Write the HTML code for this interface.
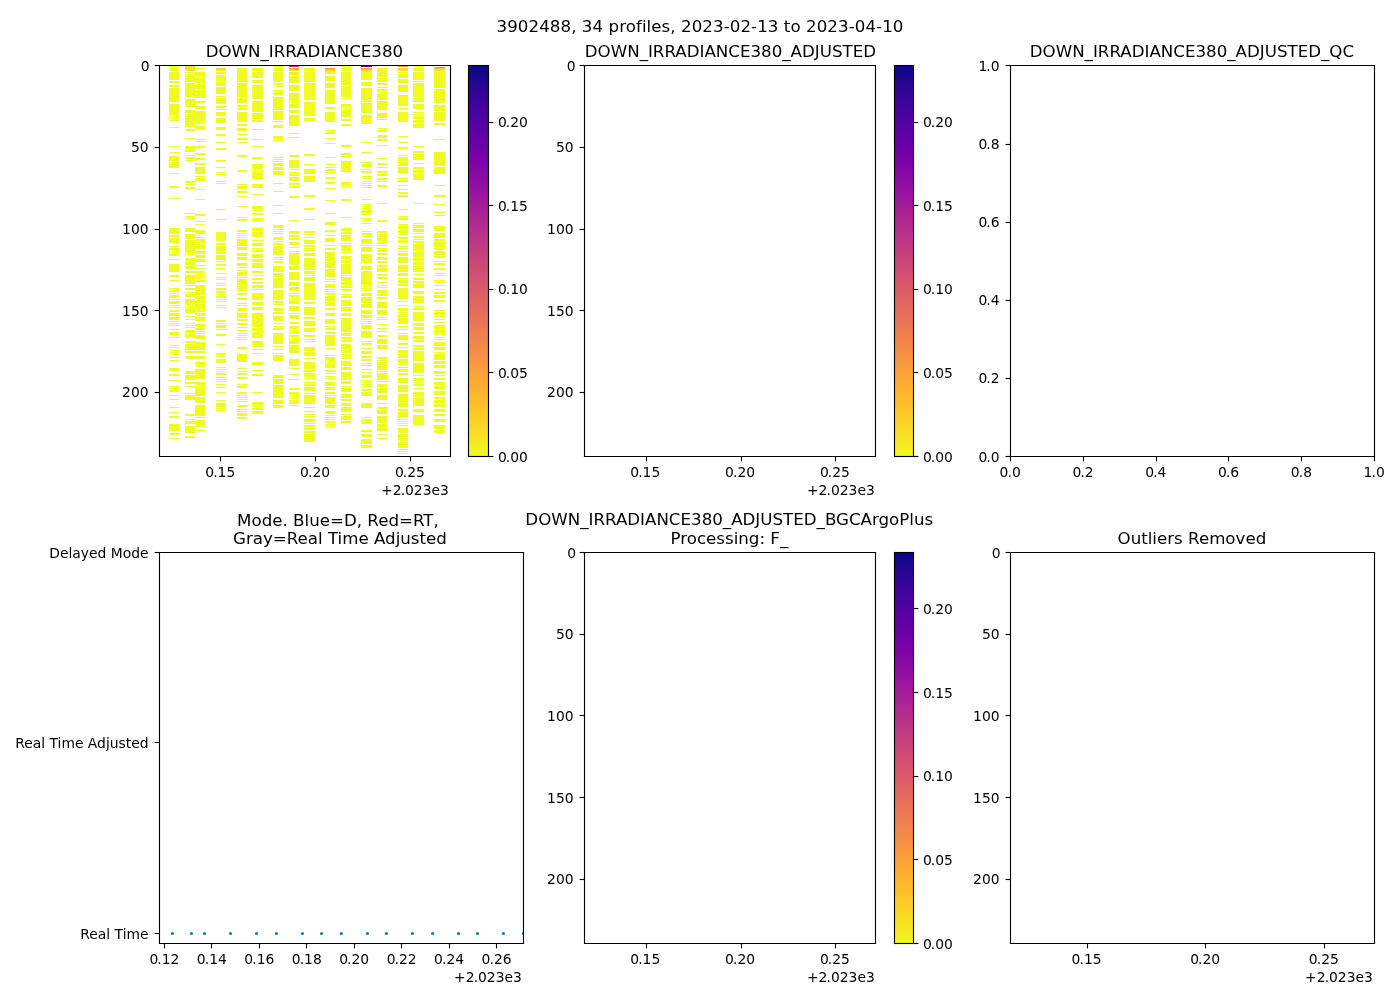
<!DOCTYPE html>
<html><head><meta charset="utf-8"><title>3902488 DOWN_IRRADIANCE380</title>
<style>html,body{margin:0;padding:0;background:#fff;width:1400px;height:1000px;overflow:hidden}svg{display:block;will-change:transform}</style>
</head><body>
<svg width="1400" height="1000" viewBox="0 0 1008 720" version="1.1">
 <defs><linearGradient id="plasma" x1="0" y1="1" x2="0" y2="0"><stop offset="0.0000" stop-color="#f0f921"/><stop offset="0.0625" stop-color="#f9dd25"/><stop offset="0.1250" stop-color="#fdc328"/><stop offset="0.1875" stop-color="#fdab33"/><stop offset="0.2500" stop-color="#f89441"/><stop offset="0.3125" stop-color="#f07f4f"/><stop offset="0.3750" stop-color="#e56b5d"/><stop offset="0.4375" stop-color="#d9586a"/><stop offset="0.5000" stop-color="#cb4679"/><stop offset="0.5625" stop-color="#bb3488"/><stop offset="0.6250" stop-color="#a82296"/><stop offset="0.6875" stop-color="#9410a2"/><stop offset="0.7500" stop-color="#7d03a8"/><stop offset="0.8125" stop-color="#6400a7"/><stop offset="0.8750" stop-color="#4b03a1"/><stop offset="0.9375" stop-color="#2f0596"/><stop offset="1.0000" stop-color="#0d0887"/></linearGradient>
  <style type="text/css">*{stroke-linejoin: round; stroke-linecap: butt}</style>
 </defs>
 <g id="figure_1">
  <g id="patch_1">
   <path d="M 0 720 L 1008 720 L 1008 0 L 0 0 z
" style="fill: #ffffff"/>
  </g>
  <g id="axes_1">
   <g id="patch_2">
    <path d="M 114.84 328.68 L 324.36 328.68 L 324.36 47.16 L 114.84 47.16 z
" style="fill: #ffffff"/>
   </g>
   <g transform="scale(0.72)" shape-rendering="crispEdges"><clipPath id="clipA"><rect x="159.5" y="65.5" width="291" height="391"/></clipPath><g clip-path="url(#clipA)"><path fill="#f0f921" d="M169 66h10v1h-10zM169 68h10v3h-10zM169 72h10v8h-10zM169 81h10v2h-10zM169 85h10v2h-10zM169 88h10v14h-10zM169 104h10v11h-10zM169 116h10v1h-10zM169 118h10v1h-10zM169 120h10v1h-10zM169 127h10v1h-10zM169 146h10v1h-10zM169 152h10v1h-10zM169 156h10v5h-10zM169 162h10v6h-10zM169 173h10v1h-10zM169 186h10v2h-10zM169 198h10v1h-10zM169 228h10v6h-10zM169 235h10v2h-10zM169 238h10v5h-10zM169 246h10v1h-10zM169 248h10v3h-10zM169 252h10v1h-10zM169 254h10v2h-10zM169 259h10v1h-10zM169 264h10v8h-10zM169 275h10v2h-10zM169 280h10v1h-10zM169 288h10v1h-10zM169 290h10v2h-10zM169 293h10v1h-10zM169 295h10v3h-10zM169 299h10v1h-10zM169 301h10v3h-10zM169 305h10v1h-10zM169 307h10v1h-10zM169 310h10v2h-10zM169 313h10v3h-10zM169 317h10v3h-10zM169 321h10v1h-10zM169 323h10v1h-10zM169 325h10v1h-10zM169 329h10v1h-10zM169 332h10v3h-10zM169 337h10v1h-10zM169 345h10v1h-10zM169 347h10v1h-10zM169 350h10v1h-10zM169 352h10v1h-10zM169 354h10v1h-10zM169 357h10v1h-10zM169 360h10v1h-10zM169 368h10v3h-10zM169 374h10v2h-10zM169 380h10v1h-10zM169 386h10v1h-10zM169 388h10v1h-10zM169 390h10v2h-10zM169 395h10v1h-10zM169 399h10v1h-10zM169 407h10v1h-10zM169 412h10v1h-10zM169 416h10v2h-10zM169 424h10v7h-10zM169 433h10v2h-10zM169 438h10v1h-10zM185 72h10v1h-10zM185 74h10v8h-10zM185 83h10v14h-10zM185 99h10v8h-10zM185 110h10v3h-10zM185 114h10v13h-10zM185 129h10v2h-10zM185 138h10v1h-10zM185 146h10v3h-10zM185 150h10v2h-10zM185 155h10v1h-10zM185 157h10v2h-10zM185 160h10v1h-10zM185 181h10v2h-10zM185 184h10v1h-10zM185 187h10v2h-10zM185 213h10v1h-10zM185 216h10v1h-10zM185 218h10v1h-10zM185 228h10v4h-10zM185 234h10v5h-10zM185 240h10v13h-10zM185 254h10v1h-10zM185 258h10v3h-10zM185 262h10v3h-10zM185 266h10v3h-10zM185 271h10v2h-10zM185 275h10v9h-10zM185 285h10v1h-10zM185 288h10v2h-10zM185 292h10v1h-10zM185 294h10v3h-10zM185 299h10v6h-10zM185 306h10v1h-10zM185 308h10v5h-10zM185 316h10v1h-10zM185 319h10v1h-10zM185 323h10v1h-10zM185 325h10v1h-10zM185 327h10v1h-10zM185 330h10v3h-10zM185 334h10v4h-10zM185 341h10v2h-10zM185 344h10v6h-10zM185 351h10v2h-10zM185 356h10v3h-10zM185 371h10v3h-10zM185 375h10v5h-10zM185 382h10v2h-10zM185 386h10v1h-10zM185 393h10v1h-10zM185 395h10v5h-10zM185 414h10v2h-10zM185 419h10v1h-10zM185 421h10v3h-10zM185 426h10v7h-10zM185 436h10v2h-10zM195 68h10v1h-10zM195 72h10v5h-10zM195 78h10v5h-10zM195 84h10v5h-10zM195 90h10v3h-10zM195 94h10v4h-10zM195 101h10v2h-10zM195 106h10v3h-10zM195 111h10v10h-10zM195 122h10v1h-10zM195 126h10v4h-10zM195 139h10v1h-10zM195 141h10v1h-10zM195 146h10v2h-10zM195 153h10v2h-10zM195 158h10v2h-10zM195 163h10v2h-10zM195 167h10v7h-10zM195 176h10v1h-10zM195 178h10v3h-10zM195 189h10v1h-10zM195 199h10v1h-10zM195 214h10v2h-10zM195 221h10v1h-10zM195 224h10v1h-10zM195 230h10v4h-10zM195 237h10v1h-10zM195 239h10v4h-10zM195 244h10v5h-10zM195 251h10v3h-10zM195 255h10v3h-10zM195 259h10v3h-10zM195 265h10v1h-10zM195 268h10v1h-10zM195 271h10v2h-10zM195 274h10v1h-10zM195 276h10v1h-10zM195 278h10v1h-10zM195 280h10v2h-10zM195 285h10v10h-10zM195 296h10v3h-10zM195 300h10v3h-10zM195 304h10v5h-10zM195 310h10v2h-10zM195 313h10v3h-10zM195 317h10v4h-10zM195 324h10v3h-10zM195 328h10v2h-10zM195 331h10v1h-10zM195 333h10v1h-10zM195 335h10v4h-10zM195 342h10v8h-10zM195 351h10v2h-10zM195 356h10v3h-10zM195 362h10v3h-10zM195 366h10v1h-10zM195 369h10v10h-10zM195 382h10v3h-10zM195 386h10v1h-10zM195 388h10v8h-10zM195 397h10v6h-10zM195 405h10v11h-10zM195 417h10v1h-10zM195 420h10v5h-10zM195 426h10v1h-10zM195 430h10v1h-10zM216 72h10v2h-10zM216 75h10v6h-10zM216 82h10v4h-10zM216 87h10v7h-10zM216 96h10v1h-10zM216 98h10v6h-10zM216 106h10v2h-10zM216 109h10v1h-10zM216 112h10v4h-10zM216 118h10v5h-10zM216 127h10v3h-10zM216 134h10v2h-10zM216 142h10v1h-10zM216 148h10v2h-10zM216 160h10v2h-10zM216 167h10v1h-10zM216 172h10v1h-10zM216 174h10v1h-10zM216 181h10v1h-10zM216 183h10v1h-10zM216 209h10v1h-10zM216 219h10v1h-10zM216 232h10v9h-10zM216 243h10v2h-10zM216 246h10v5h-10zM216 252h10v2h-10zM216 255h10v5h-10zM216 261h10v1h-10zM216 264h10v2h-10zM216 268h10v1h-10zM216 273h10v1h-10zM216 277h10v1h-10zM216 279h10v1h-10zM216 283h10v1h-10zM216 285h10v1h-10zM216 288h10v2h-10zM216 291h10v2h-10zM216 294h10v1h-10zM216 296h10v2h-10zM216 299h10v1h-10zM216 301h10v1h-10zM216 305h10v1h-10zM216 307h10v1h-10zM216 320h10v2h-10zM216 323h10v1h-10zM216 325h10v3h-10zM216 329h10v1h-10zM216 334h10v2h-10zM216 344h10v1h-10zM216 353h10v2h-10zM216 356h10v1h-10zM216 359h10v4h-10zM216 367h10v1h-10zM216 369h10v1h-10zM216 371h10v1h-10zM216 373h10v2h-10zM216 377h10v1h-10zM216 379h10v1h-10zM216 381h10v1h-10zM216 384h10v1h-10zM216 387h10v1h-10zM216 392h10v1h-10zM216 400h10v1h-10zM216 403h10v4h-10zM216 408h10v1h-10zM216 410h10v1h-10zM237 68h10v14h-10zM237 83h10v14h-10zM237 98h10v5h-10zM237 105h10v2h-10zM237 108h10v2h-10zM237 112h10v10h-10zM237 124h10v2h-10zM237 128h10v3h-10zM237 134h10v1h-10zM237 138h10v2h-10zM237 142h10v1h-10zM237 155h10v2h-10zM237 170h10v2h-10zM237 184h10v1h-10zM237 186h10v3h-10zM237 191h10v2h-10zM237 196h10v1h-10zM237 206h10v1h-10zM237 217h10v1h-10zM237 219h10v2h-10zM237 230h10v2h-10zM237 233h10v1h-10zM237 235h10v1h-10zM237 237h10v1h-10zM237 239h10v7h-10zM237 247h10v3h-10zM237 253h10v3h-10zM237 257h10v3h-10zM237 263h10v3h-10zM237 267h10v1h-10zM237 270h10v1h-10zM237 272h10v4h-10zM237 277h10v1h-10zM237 279h10v6h-10zM237 286h10v5h-10zM237 293h10v2h-10zM237 298h10v2h-10zM237 303h10v1h-10zM237 305h10v1h-10zM237 308h10v3h-10zM237 313h10v5h-10zM237 319h10v2h-10zM237 323h10v2h-10zM237 327h10v1h-10zM237 330h10v1h-10zM237 333h10v1h-10zM237 335h10v1h-10zM237 337h10v1h-10zM237 339h10v1h-10zM237 347h10v2h-10zM237 354h10v8h-10zM237 368h10v1h-10zM237 371h10v1h-10zM237 373h10v2h-10zM237 377h10v2h-10zM237 384h10v1h-10zM237 386h10v2h-10zM237 392h10v2h-10zM237 395h10v1h-10zM237 397h10v1h-10zM237 399h10v1h-10zM237 401h10v1h-10zM237 405h10v2h-10zM237 409h10v1h-10zM237 411h10v1h-10zM237 413h10v3h-10zM237 417h10v2h-10zM252 68h11v3h-11zM252 72h11v6h-11zM252 80h11v3h-11zM252 85h11v14h-11zM252 101h11v11h-11zM252 113h11v6h-11zM252 120h11v2h-11zM252 129h11v1h-11zM252 139h11v1h-11zM252 146h11v1h-11zM252 157h11v2h-11zM252 164h11v5h-11zM252 170h11v1h-11zM252 172h11v7h-11zM252 184h11v4h-11zM252 194h11v1h-11zM252 206h11v3h-11zM252 210h11v1h-11zM252 213h11v2h-11zM252 218h11v1h-11zM252 220h11v1h-11zM252 228h11v3h-11zM252 232h11v5h-11zM252 240h11v1h-11zM252 243h11v3h-11zM252 248h11v1h-11zM252 250h11v2h-11zM252 254h11v4h-11zM252 259h11v3h-11zM252 263h11v5h-11zM252 271h11v2h-11zM252 275h11v1h-11zM252 278h11v2h-11zM252 282h11v2h-11zM252 285h11v3h-11zM252 289h11v1h-11zM252 293h11v7h-11zM252 302h11v3h-11zM252 307h11v3h-11zM252 313h11v14h-11zM252 328h11v3h-11zM252 332h11v6h-11zM252 341h11v4h-11zM252 346h11v1h-11zM252 349h11v1h-11zM252 353h11v1h-11zM252 362h11v3h-11zM252 370h11v1h-11zM252 374h11v2h-11zM252 392h11v1h-11zM252 402h11v3h-11zM252 406h11v1h-11zM252 408h11v2h-11zM252 411h11v3h-11zM273 66h10v1h-10zM273 68h10v3h-10zM273 72h10v10h-10zM273 83h10v2h-10zM273 86h10v1h-10zM273 90h10v1h-10zM273 92h10v3h-10zM273 97h10v13h-10zM273 111h10v9h-10zM273 121h10v1h-10zM273 125h10v3h-10zM273 136h10v3h-10zM273 140h10v1h-10zM273 157h10v1h-10zM273 159h10v1h-10zM273 161h10v1h-10zM273 163h10v3h-10zM273 167h10v3h-10zM273 171h10v4h-10zM273 183h10v1h-10zM273 191h10v1h-10zM273 205h10v1h-10zM273 213h10v1h-10zM273 225h10v3h-10zM273 229h10v1h-10zM273 231h10v1h-10zM273 233h10v1h-10zM273 237h10v3h-10zM273 241h10v1h-10zM273 243h10v2h-10zM273 246h10v9h-10zM273 257h10v1h-10zM273 259h10v1h-10zM273 261h10v2h-10zM273 266h10v6h-10zM273 273h10v4h-10zM273 278h10v10h-10zM273 290h10v10h-10zM273 301h10v2h-10zM273 304h10v1h-10zM273 308h10v3h-10zM273 312h10v2h-10zM273 316h10v5h-10zM273 323h10v1h-10zM273 326h10v1h-10zM273 328h10v2h-10zM273 333h10v11h-10zM273 346h10v1h-10zM273 349h10v1h-10zM273 353h10v1h-10zM273 355h10v6h-10zM273 375h10v3h-10zM273 379h10v5h-10zM273 385h10v13h-10zM273 400h10v4h-10zM273 405h10v3h-10zM289 76h10v7h-10zM289 85h10v6h-10zM289 93h10v8h-10zM289 102h10v1h-10zM289 104h10v4h-10zM289 110h10v3h-10zM289 115h10v11h-10zM289 133h10v1h-10zM289 137h10v1h-10zM289 155h10v2h-10zM289 160h10v8h-10zM289 169h10v1h-10zM289 172h10v1h-10zM289 174h10v2h-10zM289 177h10v4h-10zM289 183h10v2h-10zM289 186h10v2h-10zM289 196h10v2h-10zM289 220h10v1h-10zM289 231h10v3h-10zM289 235h10v2h-10zM289 238h10v2h-10zM289 242h10v3h-10zM289 247h10v1h-10zM289 251h10v1h-10zM289 253h10v12h-10zM289 266h10v4h-10zM289 272h10v8h-10zM289 282h10v4h-10zM289 287h10v4h-10zM289 293h10v1h-10zM289 295h10v2h-10zM289 298h10v1h-10zM289 300h10v4h-10zM289 306h10v5h-10zM289 313h10v1h-10zM289 315h10v4h-10zM289 322h10v2h-10zM289 326h10v3h-10zM289 330h10v1h-10zM289 332h10v2h-10zM289 335h10v2h-10zM289 338h10v1h-10zM289 340h10v4h-10zM289 345h10v8h-10zM289 359h10v7h-10zM289 368h10v1h-10zM289 374h10v1h-10zM289 379h10v1h-10zM289 388h10v2h-10zM289 392h10v3h-10zM289 396h10v1h-10zM289 398h10v1h-10zM289 400h10v4h-10zM289 405h10v1h-10zM304 68h11v3h-11zM304 72h11v10h-11zM304 83h11v14h-11zM304 98h11v2h-11zM304 102h11v14h-11zM304 118h11v3h-11zM304 154h11v2h-11zM304 164h11v1h-11zM304 169h11v5h-11zM304 176h11v6h-11zM304 195h11v2h-11zM304 208h11v2h-11zM304 219h11v1h-11zM304 231h11v2h-11zM304 234h11v1h-11zM304 237h11v1h-11zM304 240h11v4h-11zM304 245h11v2h-11zM304 248h11v1h-11zM304 250h11v1h-11zM304 253h11v3h-11zM304 258h11v9h-11zM304 268h11v2h-11zM304 271h11v3h-11zM304 275h11v1h-11zM304 277h11v4h-11zM304 283h11v14h-11zM304 298h11v2h-11zM304 302h11v2h-11zM304 307h11v8h-11zM304 317h11v2h-11zM304 321h11v5h-11zM304 328h11v4h-11zM304 335h11v2h-11zM304 339h11v1h-11zM304 341h11v1h-11zM304 347h11v4h-11zM304 352h11v4h-11zM304 358h11v1h-11zM304 362h11v7h-11zM304 370h11v2h-11zM304 373h11v4h-11zM304 378h11v1h-11zM304 382h11v1h-11zM304 384h11v2h-11zM304 387h11v4h-11zM304 393h11v1h-11zM304 395h11v9h-11zM304 407h11v1h-11zM304 411h11v1h-11zM304 414h11v1h-11zM304 416h11v1h-11zM304 419h11v3h-11zM304 423h11v1h-11zM304 425h11v2h-11zM304 428h11v2h-11zM304 431h11v2h-11zM304 434h11v8h-11zM325 72h10v2h-10zM325 76h10v5h-10zM325 83h10v5h-10zM325 90h10v14h-10zM325 107h10v2h-10zM325 112h10v10h-10zM325 130h10v1h-10zM325 132h10v2h-10zM325 138h10v1h-10zM325 143h10v1h-10zM325 157h10v1h-10zM325 164h10v1h-10zM325 167h10v1h-10zM325 169h10v2h-10zM325 172h10v1h-10zM325 177h10v2h-10zM325 182h10v2h-10zM325 188h10v1h-10zM325 200h10v1h-10zM325 213h10v1h-10zM325 222h10v3h-10zM325 230h10v2h-10zM325 235h10v1h-10zM325 238h10v4h-10zM325 245h10v1h-10zM325 248h10v2h-10zM325 252h10v9h-10zM325 262h10v6h-10zM325 269h10v8h-10zM325 279h10v1h-10zM325 281h10v1h-10zM325 284h10v4h-10zM325 289h10v1h-10zM325 291h10v1h-10zM325 293h10v2h-10zM325 296h10v5h-10zM325 302h10v4h-10zM325 308h10v2h-10zM325 313h10v3h-10zM325 319h10v5h-10zM325 326h10v1h-10zM325 328h10v2h-10zM325 332h10v2h-10zM325 335h10v11h-10zM325 348h10v1h-10zM325 355h10v1h-10zM325 357h10v4h-10zM325 362h10v1h-10zM325 364h10v4h-10zM325 370h10v2h-10zM325 373h10v1h-10zM325 376h10v1h-10zM325 378h10v1h-10zM325 382h10v4h-10zM325 387h10v3h-10zM325 392h10v2h-10zM325 395h10v1h-10zM325 397h10v7h-10zM325 405h10v3h-10zM325 411h10v3h-10zM325 415h10v1h-10zM325 417h10v1h-10zM325 419h10v1h-10zM325 421h10v2h-10zM325 424h10v1h-10zM325 426h10v1h-10zM341 66h10v1h-10zM341 68h10v3h-10zM341 72h10v13h-10zM341 86h10v11h-10zM341 98h10v1h-10zM341 104h10v3h-10zM341 108h10v1h-10zM341 110h10v7h-10zM341 119h10v2h-10zM341 124h10v2h-10zM341 145h10v2h-10zM341 153h10v2h-10zM341 156h10v1h-10zM341 161h10v11h-10zM341 182h10v3h-10zM341 186h10v1h-10zM341 199h10v2h-10zM341 217h10v1h-10zM341 228h10v3h-10zM341 232h10v2h-10zM341 235h10v6h-10zM341 243h10v1h-10zM341 245h10v6h-10zM341 252h10v1h-10zM341 256h10v3h-10zM341 260h10v3h-10zM341 264h10v10h-10zM341 275h10v1h-10zM341 277h10v4h-10zM341 282h10v3h-10zM341 286h10v2h-10zM341 289h10v2h-10zM341 294h10v1h-10zM341 296h10v2h-10zM341 300h10v6h-10zM341 307h10v4h-10zM341 313h10v3h-10zM341 318h10v14h-10zM341 333h10v3h-10zM341 337h10v2h-10zM341 340h10v2h-10zM341 344h10v5h-10zM341 350h10v3h-10zM341 354h10v3h-10zM341 358h10v1h-10zM341 361h10v5h-10zM341 367h10v3h-10zM341 372h10v5h-10zM341 378h10v2h-10zM341 381h10v3h-10zM341 386h10v1h-10zM341 388h10v4h-10zM341 394h10v4h-10zM341 399h10v2h-10zM341 403h10v3h-10zM341 407h10v5h-10zM341 414h10v1h-10zM341 416h10v4h-10zM341 421h10v2h-10zM361 72h11v8h-11zM361 82h11v4h-11zM361 88h11v14h-11zM361 103h11v10h-11zM361 115h11v9h-11zM361 142h11v1h-11zM361 152h11v1h-11zM361 162h11v1h-11zM361 164h11v3h-11zM361 169h11v1h-11zM361 171h11v2h-11zM361 176h11v1h-11zM361 178h11v1h-11zM361 181h11v1h-11zM361 183h11v1h-11zM361 185h11v1h-11zM361 187h11v1h-11zM361 199h11v1h-11zM361 204h11v1h-11zM361 206h11v1h-11zM361 208h11v1h-11zM361 210h11v3h-11zM361 214h11v1h-11zM361 218h11v1h-11zM361 220h11v1h-11zM361 223h11v1h-11zM361 231h11v1h-11zM361 233h11v2h-11zM361 236h11v1h-11zM361 239h11v5h-11zM361 245h11v1h-11zM361 247h11v5h-11zM361 254h11v9h-11zM361 266h11v4h-11zM361 271h11v14h-11zM361 286h11v1h-11zM361 288h11v1h-11zM361 290h11v1h-11zM361 293h11v3h-11zM361 297h11v6h-11zM361 304h11v4h-11zM361 310h11v4h-11zM361 315h11v3h-11zM361 319h11v1h-11zM361 321h11v1h-11zM361 323h11v1h-11zM361 325h11v4h-11zM361 331h11v7h-11zM361 341h11v1h-11zM361 343h11v2h-11zM361 348h11v1h-11zM361 351h11v3h-11zM361 356h11v2h-11zM361 359h11v2h-11zM361 363h11v1h-11zM361 365h11v1h-11zM361 369h11v1h-11zM361 372h11v1h-11zM361 375h11v3h-11zM361 380h11v1h-11zM361 382h11v1h-11zM361 384h11v1h-11zM361 386h11v1h-11zM361 389h11v2h-11zM361 392h11v4h-11zM361 403h11v5h-11zM361 417h11v1h-11zM361 419h11v2h-11zM361 422h11v2h-11zM361 430h11v2h-11zM361 434h11v3h-11zM361 439h11v5h-11zM361 445h11v3h-11zM377 68h10v9h-10zM377 78h10v4h-10zM377 83h10v2h-10zM377 87h10v1h-10zM377 89h10v2h-10zM377 92h10v1h-10zM377 94h10v6h-10zM377 101h10v9h-10zM377 113h10v5h-10zM377 119h10v1h-10zM377 128h10v1h-10zM377 130h10v2h-10zM377 135h10v3h-10zM377 139h10v2h-10zM377 145h10v1h-10zM377 158h10v1h-10zM377 163h10v2h-10zM377 167h10v1h-10zM377 171h10v2h-10zM377 174h10v2h-10zM377 178h10v2h-10zM377 181h10v1h-10zM377 185h10v2h-10zM377 203h10v1h-10zM377 220h10v2h-10zM377 231h10v2h-10zM377 234h10v7h-10zM377 242h10v2h-10zM377 245h10v1h-10zM377 248h10v1h-10zM377 250h10v2h-10zM377 253h10v2h-10zM377 257h10v3h-10zM377 261h10v2h-10zM377 265h10v2h-10zM377 268h10v4h-10zM377 274h10v2h-10zM377 277h10v2h-10zM377 282h10v1h-10zM377 285h10v1h-10zM377 287h10v1h-10zM377 290h10v3h-10zM377 294h10v2h-10zM377 297h10v2h-10zM377 302h10v6h-10zM377 310h10v5h-10zM377 317h10v1h-10zM377 319h10v1h-10zM377 324h10v1h-10zM377 328h10v1h-10zM377 331h10v1h-10zM377 335h10v2h-10zM377 339h10v5h-10zM377 345h10v4h-10zM377 357h10v2h-10zM377 360h10v1h-10zM377 362h10v8h-10zM377 371h10v1h-10zM377 373h10v7h-10zM377 381h10v1h-10zM377 384h10v3h-10zM377 388h10v5h-10zM377 395h10v5h-10zM377 403h10v1h-10zM377 407h10v2h-10zM377 410h10v4h-10zM377 416h10v7h-10zM377 424h10v3h-10zM377 428h10v3h-10zM377 434h10v1h-10zM377 438h10v1h-10zM398 72h10v1h-10zM398 74h10v4h-10zM398 79h10v4h-10zM398 85h10v7h-10zM398 95h10v11h-10zM398 108h10v1h-10zM398 112h10v10h-10zM398 136h10v1h-10zM398 142h10v1h-10zM398 147h10v2h-10zM398 155h10v1h-10zM398 157h10v4h-10zM398 162h10v4h-10zM398 167h10v6h-10zM398 178h10v1h-10zM398 180h10v2h-10zM398 185h10v1h-10zM398 189h10v1h-10zM398 192h10v2h-10zM398 195h10v2h-10zM398 209h10v1h-10zM398 216h10v1h-10zM398 218h10v2h-10zM398 224h10v1h-10zM398 226h10v3h-10zM398 230h10v3h-10zM398 234h10v1h-10zM398 237h10v2h-10zM398 240h10v3h-10zM398 246h10v1h-10zM398 248h10v1h-10zM398 251h10v1h-10zM398 253h10v3h-10zM398 257h10v6h-10zM398 265h10v7h-10zM398 273h10v3h-10zM398 278h10v1h-10zM398 280h10v3h-10zM398 284h10v2h-10zM398 288h10v11h-10zM398 301h10v1h-10zM398 305h10v1h-10zM398 308h10v3h-10zM398 312h10v1h-10zM398 314h10v1h-10zM398 316h10v1h-10zM398 318h10v6h-10zM398 326h10v1h-10zM398 329h10v1h-10zM398 333h10v1h-10zM398 335h10v5h-10zM398 343h10v2h-10zM398 347h10v1h-10zM398 350h10v3h-10zM398 354h10v4h-10zM398 359h10v4h-10zM398 364h10v1h-10zM398 367h10v1h-10zM398 369h10v3h-10zM398 373h10v2h-10zM398 378h10v5h-10zM398 385h10v7h-10zM398 394h10v13h-10zM398 409h10v2h-10zM398 412h10v6h-10zM398 419h10v1h-10zM398 421h10v1h-10zM398 423h10v1h-10zM398 425h10v1h-10zM398 428h10v5h-10zM398 434h10v7h-10zM398 442h10v6h-10zM398 449h10v1h-10zM398 451h10v1h-10zM398 453h10v1h-10zM413 66h11v1h-11zM413 68h11v3h-11zM413 72h11v8h-11zM413 81h11v1h-11zM413 83h11v14h-11zM413 98h11v4h-11zM413 104h11v5h-11zM413 112h11v1h-11zM413 114h11v1h-11zM413 116h11v3h-11zM413 120h11v3h-11zM413 124h11v4h-11zM413 146h11v1h-11zM413 151h11v2h-11zM413 154h11v6h-11zM413 163h11v1h-11zM413 167h11v2h-11zM413 170h11v3h-11zM413 174h11v6h-11zM413 203h11v1h-11zM413 223h11v1h-11zM413 225h11v3h-11zM413 229h11v3h-11zM413 233h11v1h-11zM413 236h11v2h-11zM413 239h11v1h-11zM413 241h11v2h-11zM413 244h11v7h-11zM413 252h11v5h-11zM413 258h11v3h-11zM413 262h11v3h-11zM413 266h11v6h-11zM413 274h11v1h-11zM413 278h11v2h-11zM413 281h11v2h-11zM413 284h11v4h-11zM413 291h11v3h-11zM413 296h11v7h-11zM413 306h11v1h-11zM413 308h11v2h-11zM413 312h11v9h-11zM413 323h11v3h-11zM413 327h11v3h-11zM413 332h11v2h-11zM413 336h11v3h-11zM413 340h11v2h-11zM413 345h11v2h-11zM413 348h11v2h-11zM413 351h11v10h-11zM413 363h11v10h-11zM413 375h11v1h-11zM413 378h11v3h-11zM413 382h11v1h-11zM413 384h11v2h-11zM413 388h11v1h-11zM413 392h11v5h-11zM413 398h11v8h-11zM413 409h11v3h-11zM413 415h11v10h-11zM434 71h11v17h-11zM434 89h11v14h-11zM434 105h11v6h-11zM434 112h11v9h-11zM434 123h11v2h-11zM434 139h11v1h-11zM434 152h11v14h-11zM434 167h11v7h-11zM434 185h11v1h-11zM434 195h11v2h-11zM434 204h11v1h-11zM434 212h11v1h-11zM434 215h11v1h-11zM434 226h11v5h-11zM434 233h11v5h-11zM434 239h11v2h-11zM434 242h11v5h-11zM434 248h11v2h-11zM434 251h11v4h-11zM434 256h11v2h-11zM434 261h11v1h-11zM434 263h11v2h-11zM434 268h11v2h-11zM434 273h11v1h-11zM434 275h11v1h-11zM434 280h11v1h-11zM434 282h11v1h-11zM434 285h11v1h-11zM434 289h11v1h-11zM434 292h11v2h-11zM434 295h11v3h-11zM434 300h11v2h-11zM434 310h11v1h-11zM434 312h11v3h-11zM434 316h11v1h-11zM434 319h11v1h-11zM434 322h11v1h-11zM434 325h11v4h-11zM434 330h11v3h-11zM434 334h11v1h-11zM434 337h11v1h-11zM434 339h11v1h-11zM434 342h11v4h-11zM434 347h11v3h-11zM434 352h11v1h-11zM434 354h11v6h-11zM434 361h11v3h-11zM434 365h11v3h-11zM434 371h11v3h-11zM434 375h11v1h-11zM434 378h11v2h-11zM434 382h11v3h-11zM434 386h11v3h-11zM434 391h11v4h-11zM434 397h11v2h-11zM434 400h11v3h-11zM434 404h11v3h-11zM434 409h11v3h-11zM434 414h11v2h-11zM434 419h11v3h-11zM434 425h11v4h-11zM434 430h11v3h-11z"/><path fill="#f6de2c" d="M185 66h10v5h-10zM398 68h10v3h-10z"/><path fill="#f8cf2a" d="M216 68h10v1h-10z"/><path fill="#f4e526" d="M216 69h10v2h-10z"/><path fill="#c8407a" d="M289 66h10v1h-10z"/><path fill="#fba238" d="M289 68h10v1h-10z"/><path fill="#fcc02a" d="M289 69h10v1h-10z"/><path fill="#f7d72a" d="M289 70h10v1h-10z"/><path fill="#f3ec25" d="M289 72h10v3h-10z"/><path fill="#fb9f3a" d="M325 68h10v1h-10z"/><path fill="#fcbd2c" d="M325 69h10v1h-10zM361 69h11v1h-11zM434 68h11v1h-11z"/><path fill="#f8da27" d="M325 70h10v1h-10zM361 70h11v1h-11zM434 69h11v1h-11z"/><path fill="#f3ec24" d="M325 71h10v1h-10zM361 71h11v1h-11zM434 70h11v1h-11z"/><path fill="#5c01a6" d="M361 66h11v1h-11z"/><path fill="#fb9b3c" d="M361 68h11v1h-11z"/><path fill="#f7993e" d="M398 66h10v1h-10z"/><path fill="#f99a3d" d="M434 67h11v1h-11z"/></g></g>
   <g id="matplotlib.axis_1">
    <g id="xtick_1">
     <g id="line2d_1">
      <defs>
       <path id="m1504cfccaf" d="M 0 0 L 0 3.5 " style="stroke: #000000; stroke-width: 0.8"/>
      </defs>
      <g>
       <use href="#m1504cfccaf" x="158.7600" y="328.6800" style="stroke: #000000; stroke-width: 0.8"/>
      </g>
     </g>
     <g id="text_1">
      <text style="font-size: 10px; font-family: 'DejaVu Sans', sans-serif; text-anchor: middle" x="158.5858" y="343.4400">0<tspan dx="-0.6480">.15</tspan></text>
     </g>
    </g>
    <g id="xtick_2">
     <g id="line2d_2">
      <g>
       <use href="#m1504cfccaf" x="227.1600" y="328.6800" style="stroke: #000000; stroke-width: 0.8"/>
      </g>
     </g>
     <g id="text_2">
      <text style="font-size: 10px; font-family: 'DejaVu Sans', sans-serif; text-anchor: middle" x="226.8669" y="343.4400">0<tspan dx="-0.6480">.20</tspan></text>
     </g>
    </g>
    <g id="xtick_3">
     <g id="line2d_3">
      <g>
       <use href="#m1504cfccaf" x="295.5600" y="328.6800" style="stroke: #000000; stroke-width: 0.8"/>
      </g>
     </g>
     <g id="text_3">
      <text style="font-size: 10px; font-family: 'DejaVu Sans', sans-serif; text-anchor: middle" x="295.1479" y="343.4400">0<tspan dx="-0.6480">.25</tspan></text>
     </g>
    </g>
    <g id="text_4">
     <text style="font-size: 10px; font-family: 'DejaVu Sans', sans-serif; text-anchor: end" x="323.2080" y="356.4000">+2<tspan dx="-0.6480">.023e3</tspan></text>
    </g>
   </g>
   <g id="matplotlib.axis_2">
    <g id="ytick_1">
     <g id="line2d_4">
      <defs>
       <path id="m5d545ce8f8" d="M 0 0 L -3.5 0 " style="stroke: #000000; stroke-width: 0.8"/>
      </defs>
      <g>
       <use href="#m5d545ce8f8" x="114.8400" y="47.1600" style="stroke: #000000; stroke-width: 0.8"/>
      </g>
     </g>
     <g id="text_5">
      <text style="font-size: 10px; font-family: 'DejaVu Sans', sans-serif; text-anchor: end" x="107.7680" y="51.1200">0</text>
     </g>
    </g>
    <g id="ytick_2">
     <g id="line2d_5">
      <g>
       <use href="#m5d545ce8f8" x="114.8400" y="106.2000" style="stroke: #000000; stroke-width: 0.8"/>
      </g>
     </g>
     <g id="text_6">
      <text style="font-size: 10px; font-family: 'DejaVu Sans', sans-serif; text-anchor: end" x="106.9760" y="109.4400">50</text>
     </g>
    </g>
    <g id="ytick_3">
     <g id="line2d_6">
      <g>
       <use href="#m5d545ce8f8" x="114.8400" y="165.2400" style="stroke: #000000; stroke-width: 0.8"/>
      </g>
     </g>
     <g id="text_7">
      <text style="font-size: 10px; font-family: 'DejaVu Sans', sans-serif; text-anchor: end" x="106.9760" y="168.4800">100</text>
     </g>
    </g>
    <g id="ytick_4">
     <g id="line2d_7">
      <g>
       <use href="#m5d545ce8f8" x="114.8400" y="223.5600" style="stroke: #000000; stroke-width: 0.8"/>
      </g>
     </g>
     <g id="text_8">
      <text style="font-size: 10px; font-family: 'DejaVu Sans', sans-serif; text-anchor: end" x="106.9760" y="227.5200">150</text>
     </g>
    </g>
    <g id="ytick_5">
     <g id="line2d_8">
      <g>
       <use href="#m5d545ce8f8" x="114.8400" y="282.6000" style="stroke: #000000; stroke-width: 0.8"/>
      </g>
     </g>
     <g id="text_9">
      <text style="font-size: 10px; font-family: 'DejaVu Sans', sans-serif; text-anchor: end" x="106.9760" y="285.8400">200</text>
     </g>
    </g>
   </g>
   <g id="patch_3">
    <path d="M 114.84 328.68 L 114.84 47.16 " style="fill: none; stroke: #000000; stroke-width: 0.8; stroke-linejoin: miter; stroke-linecap: square"/>
   </g>
   <g id="patch_4">
    <path d="M 324.36 328.68 L 324.36 47.16 " style="fill: none; stroke: #000000; stroke-width: 0.8; stroke-linejoin: miter; stroke-linecap: square"/>
   </g>
   <g id="patch_5">
    <path d="M 114.84 328.68 L 324.36 328.68 " style="fill: none; stroke: #000000; stroke-width: 0.8; stroke-linejoin: miter; stroke-linecap: square"/>
   </g>
   <g id="patch_6">
    <path d="M 114.84 47.16 L 324.36 47.16 " style="fill: none; stroke: #000000; stroke-width: 0.8; stroke-linejoin: miter; stroke-linecap: square"/>
   </g>
   <g id="text_10">
    <text style="font-size: 12px; font-family: 'DejaVu Sans', sans-serif; text-anchor: middle" x="219.1680" y="41.0400">DOWN_IRRADIANCE380</text>
   </g>
  </g>
  <g id="axes_2">
   <g id="patch_7">
    <path d="M 337.32 328.68 L 351.72 328.68 L 351.72 47.16 L 337.32 47.16 z
" style="fill: #ffffff"/>
   </g>
   <g transform="scale(0.72)"><rect x="468.5" y="65.5" width="20" height="391" fill="url(#plasma)"/></g>
   <g id="matplotlib.axis_3"/>
   <g id="matplotlib.axis_4">
    <g id="ytick_6">
     <g id="line2d_9">
      <defs>
       <path id="m33c4ce201d" d="M 0 0 L 3.5 0 " style="stroke: #000000; stroke-width: 0.8"/>
      </defs>
      <g>
       <use href="#m33c4ce201d" x="351.7200" y="328.6800" style="stroke: #000000; stroke-width: 0.8"/>
      </g>
     </g>
     <g id="text_11">
      <text style="font-size: 10px; font-family: 'DejaVu Sans', sans-serif; text-anchor: start" x="358.5040" y="332.6400">0<tspan dx="-0.6480">.00</tspan></text>
     </g>
    </g>
    <g id="ytick_7">
     <g id="line2d_10">
      <g>
       <use href="#m33c4ce201d" x="351.7200" y="268.2000" style="stroke: #000000; stroke-width: 0.8"/>
      </g>
     </g>
     <g id="text_12">
      <text style="font-size: 10px; font-family: 'DejaVu Sans', sans-serif; text-anchor: start" x="358.5040" y="272.1600">0<tspan dx="-0.6480">.05</tspan></text>
     </g>
    </g>
    <g id="ytick_8">
     <g id="line2d_11">
      <g>
       <use href="#m33c4ce201d" x="351.7200" y="208.4400" style="stroke: #000000; stroke-width: 0.8"/>
      </g>
     </g>
     <g id="text_13">
      <text style="font-size: 10px; font-family: 'DejaVu Sans', sans-serif; text-anchor: start" x="358.5040" y="211.6800">0<tspan dx="-0.6480">.10</tspan></text>
     </g>
    </g>
    <g id="ytick_9">
     <g id="line2d_12">
      <g>
       <use href="#m33c4ce201d" x="351.7200" y="147.9600" style="stroke: #000000; stroke-width: 0.8"/>
      </g>
     </g>
     <g id="text_14">
      <text style="font-size: 10px; font-family: 'DejaVu Sans', sans-serif; text-anchor: start" x="358.5040" y="151.9200">0<tspan dx="-0.6480">.15</tspan></text>
     </g>
    </g>
    <g id="ytick_10">
     <g id="line2d_13">
      <g>
       <use href="#m33c4ce201d" x="351.7200" y="88.2000" style="stroke: #000000; stroke-width: 0.8"/>
      </g>
     </g>
     <g id="text_15">
      <text style="font-size: 10px; font-family: 'DejaVu Sans', sans-serif; text-anchor: start" x="358.5040" y="91.4400">0<tspan dx="-0.6480">.20</tspan></text>
     </g>
    </g>
   </g>
   <g id="patch_8">
    <path d="M 337.32 328.68 L 337.32 47.16 " style="fill: none; stroke: #000000; stroke-width: 0.8; stroke-linejoin: miter; stroke-linecap: square"/>
   </g>
   <g id="patch_9">
    <path d="M 351.72 328.68 L 351.72 47.16 " style="fill: none; stroke: #000000; stroke-width: 0.8; stroke-linejoin: miter; stroke-linecap: square"/>
   </g>
   <g id="patch_10">
    <path d="M 337.32 328.68 L 351.72 328.68 " style="fill: none; stroke: #000000; stroke-width: 0.8; stroke-linejoin: miter; stroke-linecap: square"/>
   </g>
   <g id="patch_11">
    <path d="M 337.32 47.16 L 351.72 47.16 " style="fill: none; stroke: #000000; stroke-width: 0.8; stroke-linejoin: miter; stroke-linecap: square"/>
   </g>
  </g>
  <g id="axes_3">
   <g id="patch_12">
    <path d="M 420.84 328.68 L 630.36 328.68 L 630.36 47.16 L 420.84 47.16 z
" style="fill: #ffffff"/>
   </g>
   <g id="matplotlib.axis_5">
    <g id="xtick_4">
     <g id="line2d_14">
      <g>
       <use href="#m1504cfccaf" x="465.4800" y="328.6800" style="stroke: #000000; stroke-width: 0.8"/>
      </g>
     </g>
     <g id="text_16">
      <text style="font-size: 10px; font-family: 'DejaVu Sans', sans-serif; text-anchor: middle" x="464.5858" y="343.4400">0<tspan dx="-0.6480">.15</tspan></text>
     </g>
    </g>
    <g id="xtick_5">
     <g id="line2d_15">
      <g>
       <use href="#m1504cfccaf" x="533.8800" y="328.6800" style="stroke: #000000; stroke-width: 0.8"/>
      </g>
     </g>
     <g id="text_17">
      <text style="font-size: 10px; font-family: 'DejaVu Sans', sans-serif; text-anchor: middle" x="532.8669" y="343.4400">0<tspan dx="-0.6480">.20</tspan></text>
     </g>
    </g>
    <g id="xtick_6">
     <g id="line2d_16">
      <g>
       <use href="#m1504cfccaf" x="601.5600" y="328.6800" style="stroke: #000000; stroke-width: 0.8"/>
      </g>
     </g>
     <g id="text_18">
      <text style="font-size: 10px; font-family: 'DejaVu Sans', sans-serif; text-anchor: middle" x="601.1479" y="343.4400">0<tspan dx="-0.6480">.25</tspan></text>
     </g>
    </g>
    <g id="text_19">
     <text style="font-size: 10px; font-family: 'DejaVu Sans', sans-serif; text-anchor: end" x="629.8560" y="356.4000">+2<tspan dx="-0.6480">.023e3</tspan></text>
    </g>
   </g>
   <g id="matplotlib.axis_6">
    <g id="ytick_11">
     <g id="line2d_17">
      <g>
       <use href="#m5d545ce8f8" x="420.8400" y="47.1600" style="stroke: #000000; stroke-width: 0.8"/>
      </g>
     </g>
     <g id="text_20">
      <text style="font-size: 10px; font-family: 'DejaVu Sans', sans-serif; text-anchor: end" x="414.4160" y="51.1200">0</text>
     </g>
    </g>
    <g id="ytick_12">
     <g id="line2d_18">
      <g>
       <use href="#m5d545ce8f8" x="420.8400" y="106.2000" style="stroke: #000000; stroke-width: 0.8"/>
      </g>
     </g>
     <g id="text_21">
      <text style="font-size: 10px; font-family: 'DejaVu Sans', sans-serif; text-anchor: end" x="412.9760" y="109.4400">50</text>
     </g>
    </g>
    <g id="ytick_13">
     <g id="line2d_19">
      <g>
       <use href="#m5d545ce8f8" x="420.8400" y="165.2400" style="stroke: #000000; stroke-width: 0.8"/>
      </g>
     </g>
     <g id="text_22">
      <text style="font-size: 10px; font-family: 'DejaVu Sans', sans-serif; text-anchor: end" x="412.9760" y="168.4800">100</text>
     </g>
    </g>
    <g id="ytick_14">
     <g id="line2d_20">
      <g>
       <use href="#m5d545ce8f8" x="420.8400" y="223.5600" style="stroke: #000000; stroke-width: 0.8"/>
      </g>
     </g>
     <g id="text_23">
      <text style="font-size: 10px; font-family: 'DejaVu Sans', sans-serif; text-anchor: end" x="412.9760" y="227.5200">150</text>
     </g>
    </g>
    <g id="ytick_15">
     <g id="line2d_21">
      <g>
       <use href="#m5d545ce8f8" x="420.8400" y="282.6000" style="stroke: #000000; stroke-width: 0.8"/>
      </g>
     </g>
     <g id="text_24">
      <text style="font-size: 10px; font-family: 'DejaVu Sans', sans-serif; text-anchor: end" x="412.9760" y="285.8400">200</text>
     </g>
    </g>
   </g>
   <g id="patch_13">
    <path d="M 420.84 328.68 L 420.84 47.16 " style="fill: none; stroke: #000000; stroke-width: 0.8; stroke-linejoin: miter; stroke-linecap: square"/>
   </g>
   <g id="patch_14">
    <path d="M 630.36 328.68 L 630.36 47.16 " style="fill: none; stroke: #000000; stroke-width: 0.8; stroke-linejoin: miter; stroke-linecap: square"/>
   </g>
   <g id="patch_15">
    <path d="M 420.84 328.68 L 630.36 328.68 " style="fill: none; stroke: #000000; stroke-width: 0.8; stroke-linejoin: miter; stroke-linecap: square"/>
   </g>
   <g id="patch_16">
    <path d="M 420.84 47.16 L 630.36 47.16 " style="fill: none; stroke: #000000; stroke-width: 0.8; stroke-linejoin: miter; stroke-linecap: square"/>
   </g>
   <g id="text_25">
    <text style="font-size: 12px; font-family: 'DejaVu Sans', sans-serif; text-anchor: middle" x="525.8880" y="41.0400">DOWN_IRRADIANCE380_ADJUSTED</text>
   </g>
  </g>
  <g id="axes_4">
   <g id="patch_17">
    <path d="M 644.04 328.68 L 657.72 328.68 L 657.72 47.16 L 644.04 47.16 z
" style="fill: #ffffff"/>
   </g>
   <g transform="scale(0.72)"><rect x="894.5" y="65.5" width="19" height="391" fill="url(#plasma)"/></g>
   <g id="matplotlib.axis_7"/>
   <g id="matplotlib.axis_8">
    <g id="ytick_16">
     <g id="line2d_22">
      <g>
       <use href="#m33c4ce201d" x="657.7200" y="328.6800" style="stroke: #000000; stroke-width: 0.8"/>
      </g>
     </g>
     <g id="text_26">
      <text style="font-size: 10px; font-family: 'DejaVu Sans', sans-serif; text-anchor: start" x="664.5040" y="332.6400">0<tspan dx="-0.6480">.00</tspan></text>
     </g>
    </g>
    <g id="ytick_17">
     <g id="line2d_23">
      <g>
       <use href="#m33c4ce201d" x="657.7200" y="268.2000" style="stroke: #000000; stroke-width: 0.8"/>
      </g>
     </g>
     <g id="text_27">
      <text style="font-size: 10px; font-family: 'DejaVu Sans', sans-serif; text-anchor: start" x="664.5040" y="272.1600">0<tspan dx="-0.6480">.05</tspan></text>
     </g>
    </g>
    <g id="ytick_18">
     <g id="line2d_24">
      <g>
       <use href="#m33c4ce201d" x="657.7200" y="208.4400" style="stroke: #000000; stroke-width: 0.8"/>
      </g>
     </g>
     <g id="text_28">
      <text style="font-size: 10px; font-family: 'DejaVu Sans', sans-serif; text-anchor: start" x="664.5040" y="211.6800">0<tspan dx="-0.6480">.10</tspan></text>
     </g>
    </g>
    <g id="ytick_19">
     <g id="line2d_25">
      <g>
       <use href="#m33c4ce201d" x="657.7200" y="147.9600" style="stroke: #000000; stroke-width: 0.8"/>
      </g>
     </g>
     <g id="text_29">
      <text style="font-size: 10px; font-family: 'DejaVu Sans', sans-serif; text-anchor: start" x="664.5040" y="151.9200">0<tspan dx="-0.6480">.15</tspan></text>
     </g>
    </g>
    <g id="ytick_20">
     <g id="line2d_26">
      <g>
       <use href="#m33c4ce201d" x="657.7200" y="88.2000" style="stroke: #000000; stroke-width: 0.8"/>
      </g>
     </g>
     <g id="text_30">
      <text style="font-size: 10px; font-family: 'DejaVu Sans', sans-serif; text-anchor: start" x="664.5040" y="91.4400">0<tspan dx="-0.6480">.20</tspan></text>
     </g>
    </g>
   </g>
   <g id="patch_18">
    <path d="M 644.04 328.68 L 644.04 47.16 " style="fill: none; stroke: #000000; stroke-width: 0.8; stroke-linejoin: miter; stroke-linecap: square"/>
   </g>
   <g id="patch_19">
    <path d="M 657.72 328.68 L 657.72 47.16 " style="fill: none; stroke: #000000; stroke-width: 0.8; stroke-linejoin: miter; stroke-linecap: square"/>
   </g>
   <g id="patch_20">
    <path d="M 644.04 328.68 L 657.72 328.68 " style="fill: none; stroke: #000000; stroke-width: 0.8; stroke-linejoin: miter; stroke-linecap: square"/>
   </g>
   <g id="patch_21">
    <path d="M 644.04 47.16 L 657.72 47.16 " style="fill: none; stroke: #000000; stroke-width: 0.8; stroke-linejoin: miter; stroke-linecap: square"/>
   </g>
  </g>
  <g id="axes_5">
   <g id="patch_22">
    <path d="M 727.56 328.68 L 989.64 328.68 L 989.64 47.16 L 727.56 47.16 z
" style="fill: #ffffff"/>
   </g>
   <g id="matplotlib.axis_9">
    <g id="xtick_7">
     <g id="line2d_27">
      <g>
       <use href="#m1504cfccaf" x="727.5600" y="328.6800" style="stroke: #000000; stroke-width: 0.8"/>
      </g>
     </g>
     <g id="text_31">
      <text style="font-size: 10px; font-family: 'DejaVu Sans', sans-serif; text-anchor: middle" x="727.3440" y="343.4400">0<tspan dx="-0.6480">.0</tspan></text>
     </g>
    </g>
    <g id="xtick_8">
     <g id="line2d_28">
      <g>
       <use href="#m1504cfccaf" x="780.1200" y="328.6800" style="stroke: #000000; stroke-width: 0.8"/>
      </g>
     </g>
     <g id="text_32">
      <text style="font-size: 10px; font-family: 'DejaVu Sans', sans-serif; text-anchor: middle" x="779.7600" y="343.4400">0<tspan dx="-0.6480">.2</tspan></text>
     </g>
    </g>
    <g id="xtick_9">
     <g id="line2d_29">
      <g>
       <use href="#m1504cfccaf" x="832.6800" y="328.6800" style="stroke: #000000; stroke-width: 0.8"/>
      </g>
     </g>
     <g id="text_33">
      <text style="font-size: 10px; font-family: 'DejaVu Sans', sans-serif; text-anchor: middle" x="832.1760" y="343.4400">0<tspan dx="-0.6480">.4</tspan></text>
     </g>
    </g>
    <g id="xtick_10">
     <g id="line2d_30">
      <g>
       <use href="#m1504cfccaf" x="884.5200" y="328.6800" style="stroke: #000000; stroke-width: 0.8"/>
      </g>
     </g>
     <g id="text_34">
      <text style="font-size: 10px; font-family: 'DejaVu Sans', sans-serif; text-anchor: middle" x="884.5920" y="343.4400">0<tspan dx="-0.6480">.6</tspan></text>
     </g>
    </g>
    <g id="xtick_11">
     <g id="line2d_31">
      <g>
       <use href="#m1504cfccaf" x="937.0800" y="328.6800" style="stroke: #000000; stroke-width: 0.8"/>
      </g>
     </g>
     <g id="text_35">
      <text style="font-size: 10px; font-family: 'DejaVu Sans', sans-serif; text-anchor: middle" x="937.0080" y="343.4400">0<tspan dx="-0.6480">.8</tspan></text>
     </g>
    </g>
    <g id="xtick_12">
     <g id="line2d_32">
      <g>
       <use href="#m1504cfccaf" x="989.6400" y="328.6800" style="stroke: #000000; stroke-width: 0.8"/>
      </g>
     </g>
     <g id="text_36">
      <text style="font-size: 10px; font-family: 'DejaVu Sans', sans-serif; text-anchor: middle" x="989.4240" y="343.4400">1<tspan dx="-0.6480">.0</tspan></text>
     </g>
    </g>
   </g>
   <g id="matplotlib.axis_10">
    <g id="ytick_21">
     <g id="line2d_33">
      <g>
       <use href="#m5d545ce8f8" x="727.5600" y="328.6800" style="stroke: #000000; stroke-width: 0.8"/>
      </g>
     </g>
     <g id="text_37">
      <text style="font-size: 10px; font-family: 'DejaVu Sans', sans-serif; text-anchor: end" x="719.6960" y="332.6400">0<tspan dx="-0.6480">.0</tspan></text>
     </g>
    </g>
    <g id="ytick_22">
     <g id="line2d_34">
      <g>
       <use href="#m5d545ce8f8" x="727.5600" y="272.5200" style="stroke: #000000; stroke-width: 0.8"/>
      </g>
     </g>
     <g id="text_38">
      <text style="font-size: 10px; font-family: 'DejaVu Sans', sans-serif; text-anchor: end" x="719.6960" y="275.7600">0<tspan dx="-0.6480">.2</tspan></text>
     </g>
    </g>
    <g id="ytick_23">
     <g id="line2d_35">
      <g>
       <use href="#m5d545ce8f8" x="727.5600" y="216.3600" style="stroke: #000000; stroke-width: 0.8"/>
      </g>
     </g>
     <g id="text_39">
      <text style="font-size: 10px; font-family: 'DejaVu Sans', sans-serif; text-anchor: end" x="719.6960" y="219.6000">0<tspan dx="-0.6480">.4</tspan></text>
     </g>
    </g>
    <g id="ytick_24">
     <g id="line2d_36">
      <g>
       <use href="#m5d545ce8f8" x="727.5600" y="160.2000" style="stroke: #000000; stroke-width: 0.8"/>
      </g>
     </g>
     <g id="text_40">
      <text style="font-size: 10px; font-family: 'DejaVu Sans', sans-serif; text-anchor: end" x="719.6960" y="163.4400">0<tspan dx="-0.6480">.6</tspan></text>
     </g>
    </g>
    <g id="ytick_25">
     <g id="line2d_37">
      <g>
       <use href="#m5d545ce8f8" x="727.5600" y="104.0400" style="stroke: #000000; stroke-width: 0.8"/>
      </g>
     </g>
     <g id="text_41">
      <text style="font-size: 10px; font-family: 'DejaVu Sans', sans-serif; text-anchor: end" x="719.6960" y="107.2800">0<tspan dx="-0.6480">.8</tspan></text>
     </g>
    </g>
    <g id="ytick_26">
     <g id="line2d_38">
      <g>
       <use href="#m5d545ce8f8" x="727.5600" y="47.1600" style="stroke: #000000; stroke-width: 0.8"/>
      </g>
     </g>
     <g id="text_42">
      <text style="font-size: 10px; font-family: 'DejaVu Sans', sans-serif; text-anchor: end" x="719.6960" y="51.1200">1<tspan dx="-0.6480">.0</tspan></text>
     </g>
    </g>
   </g>
   <g id="patch_23">
    <path d="M 727.56 328.68 L 727.56 47.16 " style="fill: none; stroke: #000000; stroke-width: 0.8; stroke-linejoin: miter; stroke-linecap: square"/>
   </g>
   <g id="patch_24">
    <path d="M 989.64 328.68 L 989.64 47.16 " style="fill: none; stroke: #000000; stroke-width: 0.8; stroke-linejoin: miter; stroke-linecap: square"/>
   </g>
   <g id="patch_25">
    <path d="M 727.56 328.68 L 989.64 328.68 " style="fill: none; stroke: #000000; stroke-width: 0.8; stroke-linejoin: miter; stroke-linecap: square"/>
   </g>
   <g id="patch_26">
    <path d="M 727.56 47.16 L 989.64 47.16 " style="fill: none; stroke: #000000; stroke-width: 0.8; stroke-linejoin: miter; stroke-linecap: square"/>
   </g>
   <g id="text_43">
    <text style="font-size: 12px; font-family: 'DejaVu Sans', sans-serif; text-anchor: middle" x="858.1680" y="41.0400">DOWN_IRRADIANCE380_ADJUSTED_QC</text>
   </g>
  </g>
  <g id="axes_6">
   <g id="patch_27">
    <path d="M 114.84 679.32 L 376.92 679.32 L 376.92 397.8 L 114.84 397.8 z
" style="fill: #ffffff"/>
   </g>
   <g transform="scale(0.72)"><clipPath id="clipS"><rect x="159.5" y="552.5" width="364" height="391"/></clipPath><g clip-path="url(#clipS)" fill="#1f77b4"><circle cx="172.45" cy="933.5" r="1.6"/><circle cx="191.45" cy="933.5" r="1.6"/><circle cx="204.55" cy="933.5" r="1.6"/><circle cx="230.55" cy="933.5" r="1.6"/><circle cx="256.55" cy="933.5" r="1.6"/><circle cx="276.45" cy="933.5" r="1.6"/><circle cx="302.45" cy="933.5" r="1.6"/><circle cx="321.55" cy="933.5" r="1.6"/><circle cx="341.35" cy="933.5" r="1.6"/><circle cx="367.45" cy="933.5" r="1.6"/><circle cx="386.35" cy="933.5" r="1.6"/><circle cx="412.45" cy="933.5" r="1.6"/><circle cx="432.65" cy="933.5" r="1.6"/><circle cx="458.55" cy="933.5" r="1.6"/><circle cx="477.55" cy="933.5" r="1.6"/><circle cx="503.45" cy="933.5" r="1.6"/><circle cx="523.35" cy="933.5" r="1.6"/></g></g>
   <g id="matplotlib.axis_11">
    <g id="xtick_13">
     <g id="line2d_39">
      <g>
       <use href="#m1504cfccaf" x="118.4400" y="679.3200" style="stroke: #000000; stroke-width: 0.8"/>
      </g>
     </g>
     <g id="text_44">
      <text style="font-size: 10px; font-family: 'DejaVu Sans', sans-serif; text-anchor: middle" x="118.3680" y="694.0800">0<tspan dx="-0.6480">.12</tspan></text>
     </g>
    </g>
    <g id="xtick_14">
     <g id="line2d_40">
      <g>
       <use href="#m1504cfccaf" x="152.2800" y="679.3200" style="stroke: #000000; stroke-width: 0.8"/>
      </g>
     </g>
     <g id="text_45">
      <text style="font-size: 10px; font-family: 'DejaVu Sans', sans-serif; text-anchor: middle" x="152.5320" y="694.0800">0<tspan dx="-0.6480">.14</tspan></text>
     </g>
    </g>
    <g id="xtick_15">
     <g id="line2d_41">
      <g>
       <use href="#m1504cfccaf" x="186.8400" y="679.3200" style="stroke: #000000; stroke-width: 0.8"/>
      </g>
     </g>
     <g id="text_46">
      <text style="font-size: 10px; font-family: 'DejaVu Sans', sans-serif; text-anchor: middle" x="186.6960" y="694.0800">0<tspan dx="-0.6480">.16</tspan></text>
     </g>
    </g>
    <g id="xtick_16">
     <g id="line2d_42">
      <g>
       <use href="#m1504cfccaf" x="220.6800" y="679.3200" style="stroke: #000000; stroke-width: 0.8"/>
      </g>
     </g>
     <g id="text_47">
      <text style="font-size: 10px; font-family: 'DejaVu Sans', sans-serif; text-anchor: middle" x="220.8600" y="694.0800">0<tspan dx="-0.6480">.18</tspan></text>
     </g>
    </g>
    <g id="xtick_17">
     <g id="line2d_43">
      <g>
       <use href="#m1504cfccaf" x="255.2400" y="679.3200" style="stroke: #000000; stroke-width: 0.8"/>
      </g>
     </g>
     <g id="text_48">
      <text style="font-size: 10px; font-family: 'DejaVu Sans', sans-serif; text-anchor: middle" x="255.0240" y="694.0800">0<tspan dx="-0.6480">.20</tspan></text>
     </g>
    </g>
    <g id="xtick_18">
     <g id="line2d_44">
      <g>
       <use href="#m1504cfccaf" x="289.0800" y="679.3200" style="stroke: #000000; stroke-width: 0.8"/>
      </g>
     </g>
     <g id="text_49">
      <text style="font-size: 10px; font-family: 'DejaVu Sans', sans-serif; text-anchor: middle" x="289.1880" y="694.0800">0<tspan dx="-0.6480">.22</tspan></text>
     </g>
    </g>
    <g id="xtick_19">
     <g id="line2d_45">
      <g>
       <use href="#m1504cfccaf" x="323.6400" y="679.3200" style="stroke: #000000; stroke-width: 0.8"/>
      </g>
     </g>
     <g id="text_50">
      <text style="font-size: 10px; font-family: 'DejaVu Sans', sans-serif; text-anchor: middle" x="323.3520" y="694.0800">0<tspan dx="-0.6480">.24</tspan></text>
     </g>
    </g>
    <g id="xtick_20">
     <g id="line2d_46">
      <g>
       <use href="#m1504cfccaf" x="357.4800" y="679.3200" style="stroke: #000000; stroke-width: 0.8"/>
      </g>
     </g>
     <g id="text_51">
      <text style="font-size: 10px; font-family: 'DejaVu Sans', sans-serif; text-anchor: middle" x="357.5160" y="694.0800">0<tspan dx="-0.6480">.26</tspan></text>
     </g>
    </g>
    <g id="text_52">
     <text style="font-size: 10px; font-family: 'DejaVu Sans', sans-serif; text-anchor: end" x="375.7680" y="707.0400">+2<tspan dx="-0.6480">.023e3</tspan></text>
    </g>
   </g>
   <g id="matplotlib.axis_12">
    <g id="ytick_27">
     <g id="line2d_47">
      <g>
       <use href="#m5d545ce8f8" x="114.8400" y="672.1200" style="stroke: #000000; stroke-width: 0.8"/>
      </g>
     </g>
     <g id="text_53">
      <text style="font-size: 10px; font-family: 'DejaVu Sans', sans-serif; text-anchor: end" x="106.9760" y="676.0800">Real Time</text>
     </g>
    </g>
    <g id="ytick_28">
     <g id="line2d_48">
      <g>
       <use href="#m5d545ce8f8" x="114.8400" y="534.6000" style="stroke: #000000; stroke-width: 0.8"/>
      </g>
     </g>
     <g id="text_54">
      <text style="font-size: 10px; font-family: 'DejaVu Sans', sans-serif; text-anchor: end" x="106.9760" y="538.5600">Real Time Adjusted</text>
     </g>
    </g>
    <g id="ytick_29">
     <g id="line2d_49">
      <g>
       <use href="#m5d545ce8f8" x="114.8400" y="397.8000" style="stroke: #000000; stroke-width: 0.8"/>
      </g>
     </g>
     <g id="text_55">
      <text style="font-size: 10px; font-family: 'DejaVu Sans', sans-serif; text-anchor: end" x="106.9760" y="401.7600">Delayed Mode</text>
     </g>
    </g>
   </g>
   <g id="patch_28">
    <path d="M 114.84 679.32 L 114.84 397.8 " style="fill: none; stroke: #000000; stroke-width: 0.8; stroke-linejoin: miter; stroke-linecap: square"/>
   </g>
   <g id="patch_29">
    <path d="M 376.92 679.32 L 376.92 397.8 " style="fill: none; stroke: #000000; stroke-width: 0.8; stroke-linejoin: miter; stroke-linecap: square"/>
   </g>
   <g id="patch_30">
    <path d="M 114.84 679.32 L 376.92 679.32 " style="fill: none; stroke: #000000; stroke-width: 0.8; stroke-linejoin: miter; stroke-linecap: square"/>
   </g>
   <g id="patch_31">
    <path d="M 114.84 397.8 L 376.92 397.8 " style="fill: none; stroke: #000000; stroke-width: 0.8; stroke-linejoin: miter; stroke-linecap: square"/>
   </g>
   <g id="text_56">
    <text style="font-size: 12px; font-family: 'DejaVu Sans', sans-serif" x="170.7244" y="378.7200">Mode. Blue=D, Red=RT,</text>
    <text style="font-size: 12px; font-family: 'DejaVu Sans', sans-serif" x="167.7431" y="391.6800">Gray=Real Time Adjusted</text>
   </g>
  </g>
  <g id="axes_7">
   <g id="patch_32">
    <path d="M 420.84 679.32 L 630.36 679.32 L 630.36 397.8 L 420.84 397.8 z
" style="fill: #ffffff"/>
   </g>
   <g id="matplotlib.axis_13">
    <g id="xtick_21">
     <g id="line2d_50">
      <g>
       <use href="#m1504cfccaf" x="465.4800" y="679.3200" style="stroke: #000000; stroke-width: 0.8"/>
      </g>
     </g>
     <g id="text_57">
      <text style="font-size: 10px; font-family: 'DejaVu Sans', sans-serif; text-anchor: middle" x="464.5858" y="694.0800">0<tspan dx="-0.6480">.15</tspan></text>
     </g>
    </g>
    <g id="xtick_22">
     <g id="line2d_51">
      <g>
       <use href="#m1504cfccaf" x="533.8800" y="679.3200" style="stroke: #000000; stroke-width: 0.8"/>
      </g>
     </g>
     <g id="text_58">
      <text style="font-size: 10px; font-family: 'DejaVu Sans', sans-serif; text-anchor: middle" x="532.8669" y="694.0800">0<tspan dx="-0.6480">.20</tspan></text>
     </g>
    </g>
    <g id="xtick_23">
     <g id="line2d_52">
      <g>
       <use href="#m1504cfccaf" x="601.5600" y="679.3200" style="stroke: #000000; stroke-width: 0.8"/>
      </g>
     </g>
     <g id="text_59">
      <text style="font-size: 10px; font-family: 'DejaVu Sans', sans-serif; text-anchor: middle" x="601.1479" y="694.0800">0<tspan dx="-0.6480">.25</tspan></text>
     </g>
    </g>
    <g id="text_60">
     <text style="font-size: 10px; font-family: 'DejaVu Sans', sans-serif; text-anchor: end" x="629.8560" y="707.0400">+2<tspan dx="-0.6480">.023e3</tspan></text>
    </g>
   </g>
   <g id="matplotlib.axis_14">
    <g id="ytick_30">
     <g id="line2d_53">
      <g>
       <use href="#m5d545ce8f8" x="420.8400" y="397.8000" style="stroke: #000000; stroke-width: 0.8"/>
      </g>
     </g>
     <g id="text_61">
      <text style="font-size: 10px; font-family: 'DejaVu Sans', sans-serif; text-anchor: end" x="414.7040" y="401.7600">0</text>
     </g>
    </g>
    <g id="ytick_31">
     <g id="line2d_54">
      <g>
       <use href="#m5d545ce8f8" x="420.8400" y="456.8400" style="stroke: #000000; stroke-width: 0.8"/>
      </g>
     </g>
     <g id="text_62">
      <text style="font-size: 10px; font-family: 'DejaVu Sans', sans-serif; text-anchor: end" x="412.9760" y="460.0800">50</text>
     </g>
    </g>
    <g id="ytick_32">
     <g id="line2d_55">
      <g>
       <use href="#m5d545ce8f8" x="420.8400" y="515.1600" style="stroke: #000000; stroke-width: 0.8"/>
      </g>
     </g>
     <g id="text_63">
      <text style="font-size: 10px; font-family: 'DejaVu Sans', sans-serif; text-anchor: end" x="412.9760" y="519.1200">100</text>
     </g>
    </g>
    <g id="ytick_33">
     <g id="line2d_56">
      <g>
       <use href="#m5d545ce8f8" x="420.8400" y="574.2000" style="stroke: #000000; stroke-width: 0.8"/>
      </g>
     </g>
     <g id="text_64">
      <text style="font-size: 10px; font-family: 'DejaVu Sans', sans-serif; text-anchor: end" x="412.9760" y="578.1600">150</text>
     </g>
    </g>
    <g id="ytick_34">
     <g id="line2d_57">
      <g>
       <use href="#m5d545ce8f8" x="420.8400" y="633.2400" style="stroke: #000000; stroke-width: 0.8"/>
      </g>
     </g>
     <g id="text_65">
      <text style="font-size: 10px; font-family: 'DejaVu Sans', sans-serif; text-anchor: end" x="412.9760" y="636.4800">200</text>
     </g>
    </g>
   </g>
   <g id="patch_33">
    <path d="M 420.84 679.32 L 420.84 397.8 " style="fill: none; stroke: #000000; stroke-width: 0.8; stroke-linejoin: miter; stroke-linecap: square"/>
   </g>
   <g id="patch_34">
    <path d="M 630.36 679.32 L 630.36 397.8 " style="fill: none; stroke: #000000; stroke-width: 0.8; stroke-linejoin: miter; stroke-linecap: square"/>
   </g>
   <g id="patch_35">
    <path d="M 420.84 679.32 L 630.36 679.32 " style="fill: none; stroke: #000000; stroke-width: 0.8; stroke-linejoin: miter; stroke-linecap: square"/>
   </g>
   <g id="patch_36">
    <path d="M 420.84 397.8 L 630.36 397.8 " style="fill: none; stroke: #000000; stroke-width: 0.8; stroke-linejoin: miter; stroke-linecap: square"/>
   </g>
   <g id="text_66">
    <text style="font-size: 12px; font-family: 'DejaVu Sans', sans-serif" x="378.2346" y="378.0000">DOWN_IRRADIANCE380_ADJUSTED_BGCArgoPlus</text>
    <text style="font-size: 12px; font-family: 'DejaVu Sans', sans-serif" x="482.7527" y="391.6800">Processing: F_</text>
   </g>
  </g>
  <g id="axes_8">
   <g id="patch_37">
    <path d="M 644.04 679.32 L 657.72 679.32 L 657.72 397.8 L 644.04 397.8 z
" style="fill: #ffffff"/>
   </g>
   <g transform="scale(0.72)"><rect x="894.5" y="552.5" width="19" height="391" fill="url(#plasma)"/></g>
   <g id="matplotlib.axis_15"/>
   <g id="matplotlib.axis_16">
    <g id="ytick_35">
     <g id="line2d_58">
      <g>
       <use href="#m33c4ce201d" x="657.7200" y="679.3200" style="stroke: #000000; stroke-width: 0.8"/>
      </g>
     </g>
     <g id="text_67">
      <text style="font-size: 10px; font-family: 'DejaVu Sans', sans-serif; text-anchor: start" x="664.5040" y="683.2800">0<tspan dx="-0.6480">.00</tspan></text>
     </g>
    </g>
    <g id="ytick_36">
     <g id="line2d_59">
      <g>
       <use href="#m33c4ce201d" x="657.7200" y="618.8400" style="stroke: #000000; stroke-width: 0.8"/>
      </g>
     </g>
     <g id="text_68">
      <text style="font-size: 10px; font-family: 'DejaVu Sans', sans-serif; text-anchor: start" x="664.5040" y="622.8000">0<tspan dx="-0.6480">.05</tspan></text>
     </g>
    </g>
    <g id="ytick_37">
     <g id="line2d_60">
      <g>
       <use href="#m33c4ce201d" x="657.7200" y="559.0800" style="stroke: #000000; stroke-width: 0.8"/>
      </g>
     </g>
     <g id="text_69">
      <text style="font-size: 10px; font-family: 'DejaVu Sans', sans-serif; text-anchor: start" x="664.5040" y="562.3200">0<tspan dx="-0.6480">.10</tspan></text>
     </g>
    </g>
    <g id="ytick_38">
     <g id="line2d_61">
      <g>
       <use href="#m33c4ce201d" x="657.7200" y="498.6000" style="stroke: #000000; stroke-width: 0.8"/>
      </g>
     </g>
     <g id="text_70">
      <text style="font-size: 10px; font-family: 'DejaVu Sans', sans-serif; text-anchor: start" x="664.5040" y="502.5600">0<tspan dx="-0.6480">.15</tspan></text>
     </g>
    </g>
    <g id="ytick_39">
     <g id="line2d_62">
      <g>
       <use href="#m33c4ce201d" x="657.7200" y="438.1200" style="stroke: #000000; stroke-width: 0.8"/>
      </g>
     </g>
     <g id="text_71">
      <text style="font-size: 10px; font-family: 'DejaVu Sans', sans-serif; text-anchor: start" x="664.5040" y="442.0800">0<tspan dx="-0.6480">.20</tspan></text>
     </g>
    </g>
   </g>
   <g id="patch_38">
    <path d="M 644.04 679.32 L 644.04 397.8 " style="fill: none; stroke: #000000; stroke-width: 0.8; stroke-linejoin: miter; stroke-linecap: square"/>
   </g>
   <g id="patch_39">
    <path d="M 657.72 679.32 L 657.72 397.8 " style="fill: none; stroke: #000000; stroke-width: 0.8; stroke-linejoin: miter; stroke-linecap: square"/>
   </g>
   <g id="patch_40">
    <path d="M 644.04 679.32 L 657.72 679.32 " style="fill: none; stroke: #000000; stroke-width: 0.8; stroke-linejoin: miter; stroke-linecap: square"/>
   </g>
   <g id="patch_41">
    <path d="M 644.04 397.8 L 657.72 397.8 " style="fill: none; stroke: #000000; stroke-width: 0.8; stroke-linejoin: miter; stroke-linecap: square"/>
   </g>
  </g>
  <g id="axes_9">
   <g id="patch_42">
    <path d="M 727.56 679.32 L 989.64 679.32 L 989.64 397.8 L 727.56 397.8 z
" style="fill: #ffffff"/>
   </g>
   <g id="matplotlib.axis_17">
    <g id="xtick_24">
     <g id="line2d_63">
      <g>
       <use href="#m1504cfccaf" x="783.0000" y="679.3200" style="stroke: #000000; stroke-width: 0.8"/>
      </g>
     </g>
     <g id="text_72">
      <text style="font-size: 10px; font-family: 'DejaVu Sans', sans-serif; text-anchor: middle" x="782.3340" y="694.0800">0<tspan dx="-0.6480">.15</tspan></text>
     </g>
    </g>
    <g id="xtick_25">
     <g id="line2d_64">
      <g>
       <use href="#m1504cfccaf" x="867.9600" y="679.3200" style="stroke: #000000; stroke-width: 0.8"/>
      </g>
     </g>
     <g id="text_73">
      <text style="font-size: 10px; font-family: 'DejaVu Sans', sans-serif; text-anchor: middle" x="867.7440" y="694.0800">0<tspan dx="-0.6480">.20</tspan></text>
     </g>
    </g>
    <g id="xtick_26">
     <g id="line2d_65">
      <g>
       <use href="#m1504cfccaf" x="953.6400" y="679.3200" style="stroke: #000000; stroke-width: 0.8"/>
      </g>
     </g>
     <g id="text_74">
      <text style="font-size: 10px; font-family: 'DejaVu Sans', sans-serif; text-anchor: middle" x="953.1540" y="694.0800">0<tspan dx="-0.6480">.25</tspan></text>
     </g>
    </g>
    <g id="text_75">
     <text style="font-size: 10px; font-family: 'DejaVu Sans', sans-serif; text-anchor: end" x="988.4880" y="707.0400">+2<tspan dx="-0.6480">.023e3</tspan></text>
    </g>
   </g>
   <g id="matplotlib.axis_18">
    <g id="ytick_40">
     <g id="line2d_66">
      <g>
       <use href="#m5d545ce8f8" x="727.5600" y="397.8000" style="stroke: #000000; stroke-width: 0.8"/>
      </g>
     </g>
     <g id="text_76">
      <text style="font-size: 10px; font-family: 'DejaVu Sans', sans-serif; text-anchor: end" x="720.4160" y="401.7600">0</text>
     </g>
    </g>
    <g id="ytick_41">
     <g id="line2d_67">
      <g>
       <use href="#m5d545ce8f8" x="727.5600" y="456.8400" style="stroke: #000000; stroke-width: 0.8"/>
      </g>
     </g>
     <g id="text_77">
      <text style="font-size: 10px; font-family: 'DejaVu Sans', sans-serif; text-anchor: end" x="719.6960" y="460.0800">50</text>
     </g>
    </g>
    <g id="ytick_42">
     <g id="line2d_68">
      <g>
       <use href="#m5d545ce8f8" x="727.5600" y="515.1600" style="stroke: #000000; stroke-width: 0.8"/>
      </g>
     </g>
     <g id="text_78">
      <text style="font-size: 10px; font-family: 'DejaVu Sans', sans-serif; text-anchor: end" x="719.6960" y="519.1200">100</text>
     </g>
    </g>
    <g id="ytick_43">
     <g id="line2d_69">
      <g>
       <use href="#m5d545ce8f8" x="727.5600" y="574.2000" style="stroke: #000000; stroke-width: 0.8"/>
      </g>
     </g>
     <g id="text_79">
      <text style="font-size: 10px; font-family: 'DejaVu Sans', sans-serif; text-anchor: end" x="719.6960" y="578.1600">150</text>
     </g>
    </g>
    <g id="ytick_44">
     <g id="line2d_70">
      <g>
       <use href="#m5d545ce8f8" x="727.5600" y="633.2400" style="stroke: #000000; stroke-width: 0.8"/>
      </g>
     </g>
     <g id="text_80">
      <text style="font-size: 10px; font-family: 'DejaVu Sans', sans-serif; text-anchor: end" x="719.6960" y="636.4800">200</text>
     </g>
    </g>
   </g>
   <g id="patch_43">
    <path d="M 727.56 679.32 L 727.56 397.8 " style="fill: none; stroke: #000000; stroke-width: 0.8; stroke-linejoin: miter; stroke-linecap: square"/>
   </g>
   <g id="patch_44">
    <path d="M 989.64 679.32 L 989.64 397.8 " style="fill: none; stroke: #000000; stroke-width: 0.8; stroke-linejoin: miter; stroke-linecap: square"/>
   </g>
   <g id="patch_45">
    <path d="M 727.56 679.32 L 989.64 679.32 " style="fill: none; stroke: #000000; stroke-width: 0.8; stroke-linejoin: miter; stroke-linecap: square"/>
   </g>
   <g id="patch_46">
    <path d="M 727.56 397.8 L 989.64 397.8 " style="fill: none; stroke: #000000; stroke-width: 0.8; stroke-linejoin: miter; stroke-linecap: square"/>
   </g>
   <g id="text_81">
    <text style="font-size: 12px; font-family: 'DejaVu Sans', sans-serif; text-anchor: middle" x="858.1680" y="391.6800">Outliers Removed</text>
   </g>
  </g>
  <g id="text_82">
   <text style="font-size: 12px; font-family: 'DejaVu Sans', sans-serif; letter-spacing: 0.045px;; text-anchor: middle" x="504.0000" y="23.0400">3902488, 34 profiles, 2023-02-13 to 2023-04-10</text>
  </g>
 </g>
 <defs>
  <clipPath id="pdc1a0b82c8">
   <rect x="114.84" y="47.16" width="209.52" height="281.52"/>
  </clipPath>
  <clipPath id="p29e9d34ca9">
   <rect x="337.32" y="47.16" width="14.4" height="281.52"/>
  </clipPath>
  <clipPath id="p1ee1b58f71">
   <rect x="644.04" y="47.16" width="13.68" height="281.52"/>
  </clipPath>
  <clipPath id="p8ed38d0a36">
   <rect x="114.84" y="397.8" width="262.08" height="281.52"/>
  </clipPath>
  <clipPath id="p58b837b594">
   <rect x="644.04" y="397.8" width="13.68" height="281.52"/>
  </clipPath>
 </defs>
</svg>

</body></html>
